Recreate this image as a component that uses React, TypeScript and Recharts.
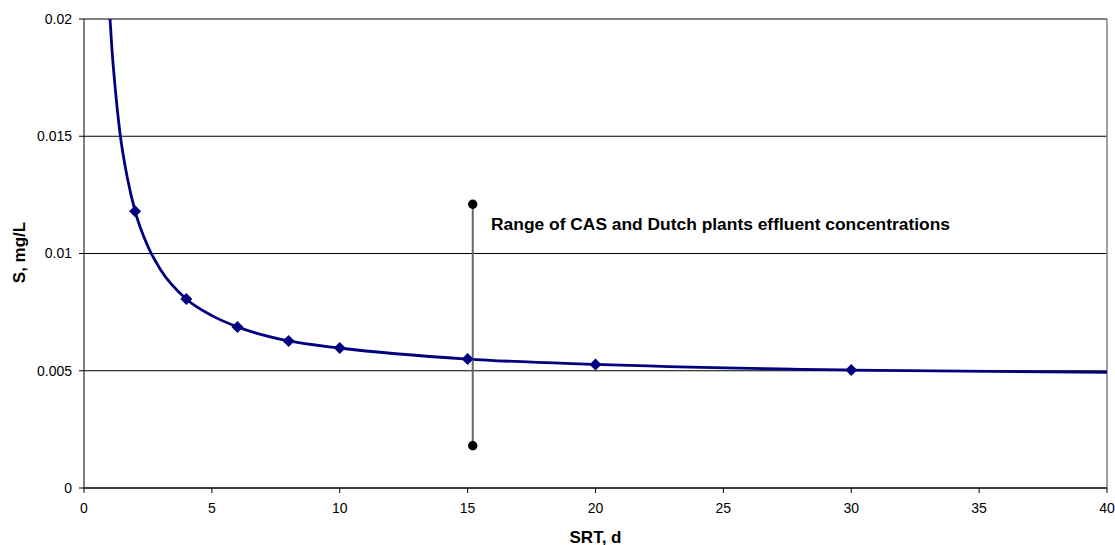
import {
  ComposedChart,
  Line,
  Scatter,
  XAxis,
  YAxis,
  CartesianGrid,
  ReferenceLine,
  ReferenceDot,
  Label,
} from 'recharts';

// smooth model curve
const curveSrt = [1, 1.1, 1.2, 1.4, 1.7, 2, 2.5, 3, 4, 5, 6, 8, 10, 15, 20, 30, 40];
const curveS = [
  0.0203, 0.0186, 0.0173, 0.0152, 0.0132, 0.0118, 0.0103, 0.0093, 0.00806, 0.00735,
  0.00687, 0.00627, 0.00597, 0.0055, 0.00527, 0.00503, 0.00493,
];

// diamond markers
const markerSrt = [2, 4, 6, 8, 10, 15, 20, 30];
const markerS = [0.0118, 0.00806, 0.00687, 0.00627, 0.00597, 0.0055, 0.00527, 0.00503];

// range of plant effluent concentrations
const rangeSrt = [15.2, 15.2];
const rangeS = [0.0121, 0.0018];
const rangeLabel = 'Range of CAS and Dutch plants effluent concentrations';

const xTicks = [0, 5, 10, 15, 20, 25, 30, 35, 40];
const yTicks = [0, 0.005, 0.01, 0.015, 0.02];

const curveData = curveSrt.map((x, i) => ({ x, s: curveS[i] }));
const markerData = markerSrt.map((x, i) => ({ x, s: markerS[i] }));
const rangeData = rangeSrt.map((x, i) => ({ x, s: rangeS[i] }));

const FONT = "'Liberation Sans', Arial, sans-serif";
const tickStyle = { fill: '#000', fontSize: 14, fontFamily: FONT };

const Diamond = (props: any) => {
  const { cx, cy } = props;
  const r = 6;
  return (
    <polygon
      points={`${cx},${cy - r} ${cx + r},${cy} ${cx},${cy + r} ${cx - r},${cy}`}
      fill="#000080"
    />
  );
};

const Dot = (props: any) => <circle cx={props.cx} cy={props.cy} r={4.7} fill="#000" />;

export default function App() {
  return (
    <div style={{ position: 'absolute', left: 0, top: 0, background: '#fff' }}>
      <ComposedChart
        width={1115}
        height={545}
        margin={{ top: 19, right: 8, bottom: 0, left: 0 }}
      >
        <CartesianGrid vertical={false} stroke="#000" strokeWidth={1} />
        <XAxis
          type="number"
          dataKey="x"
          domain={[0, 40]}
          ticks={xTicks}
          allowDataOverflow
          height={57}
          tick={tickStyle}
          tickLine={{ stroke: '#000' }}
          axisLine={{ stroke: '#000' }}
          tickSize={5}
          tickMargin={10}
        >
          <Label
            content={({ viewBox }: any) => (
              <text
                x={viewBox.x + viewBox.width / 2}
                y={viewBox.y + 49}
                textAnchor="middle"
                dominantBaseline="central"
                fontFamily={FONT}
                fontSize={17}
                fontWeight="bold"
              >
                SRT, d
              </text>
            )}
          />
        </XAxis>
        <YAxis
          type="number"
          domain={[0, 0.02]}
          ticks={yTicks}
          allowDataOverflow
          width={84}
          tick={tickStyle}
          tickLine={{ stroke: '#000' }}
          axisLine={{ stroke: '#000' }}
          tickSize={5}
          tickMargin={7}
          tickFormatter={(v: number) => String(v)}
        >
          <Label
            content={({ viewBox }: any) => {
              const cx = viewBox.x + 19;
              const cy = viewBox.y + viewBox.height / 2 - 1;
              return (
                <text
                  x={cx}
                  y={cy}
                  transform={`rotate(-90, ${cx}, ${cy})`}
                  textAnchor="middle"
                  dominantBaseline="central"
                  fontFamily={FONT}
                  fontSize={17}
                  fontWeight="bold"
                >
                  S, mg/L
                </text>
              );
            }}
          />
        </YAxis>
        <ReferenceLine y={0.02} stroke="#808080" strokeWidth={1.5} />
        <ReferenceLine x={40} stroke="#808080" strokeWidth={1.5} />
        <Scatter
          data={rangeData}
          dataKey="s"
          line={{ stroke: '#666', strokeWidth: 2 }}
          shape={Dot}
          isAnimationActive={false}
        />
        <Line
          data={curveData}
          dataKey="s"
          type="monotone"
          stroke="#000080"
          strokeWidth={2.8}
          dot={false}
          activeDot={false}
          isAnimationActive={false}
        />
        <Scatter data={markerData} dataKey="s" shape={Diamond} isAnimationActive={false} />
        <ReferenceDot
          x={15.72}
          y={0.01128}
          r={0}
          fill="none"
          stroke="none"
          label={{
            value: rangeLabel,
            position: 'right',
            fontFamily: FONT,
            fontSize: 17.4,
            fontWeight: 'bold',
            fill: '#000',
          }}
        />
      </ComposedChart>
    </div>
  );
}
